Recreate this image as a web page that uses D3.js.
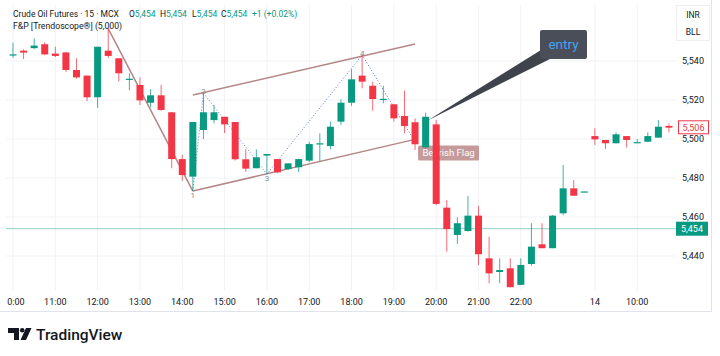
<!DOCTYPE html>
<html><head><meta charset="utf-8">
<script src="https://cdn.jsdelivr.net/npm/d3@7"></script>
<style>body{margin:0;background:#fff}svg{display:block;font-family:Roboto,"Noto Sans",sans-serif}</style>
</head><body><svg id="c" width="720" height="356"></svg>
<script>
// ---- data ----
const times = ["10:00","10:15","10:30","10:45","11:00","11:15","11:30","11:45","12:00","12:15",
"12:30","12:45","13:00","13:15","13:30","13:45","14:00","14:15","14:30","14:45",
"15:00","15:15","15:30","15:45","16:00","16:15","16:30","16:45","17:00","17:15",
"17:30","17:45","18:00","18:15","18:30","18:45","19:00","19:15","19:30","19:45",
"20:00","20:15","20:30","20:45","21:00","21:15","21:30","21:45","22:00","22:15",
"22:30","22:45","23:00","23:15","23:30","14 09:00","14 09:15","14 09:30","14 09:45","14 10:00",
"14 10:15","14 10:30","14 10:45"];
const open = [5542.8,5545.3,5546.6,5548.6,5543.8,5544.4,5535.4,5532.5,5521.4,5545.3,
5541.4,5530.5,5527.7,5518.6,5522.4,5513.7,5489.7,5480.7,5504.6,5509.7,
5511.4,5508.7,5489.6,5485.0,5491.5,5489.7,5484.6,5485.5,5488.9,5497.4,
5496.4,5508.9,5518.6,5532.5,5527.3,5520.0,5517.8,5511.8,5508.6,5495.7,
5507.5,5464.8,5450.8,5452.8,5460.7,5438.8,5431.8,5433.7,5425.2,5435.9,
5446.0,5444.0,5461.9,5474.7,5472.9,5501.5,5499.5,5497.8,5501.5,5498.3,
5498.6,5500.7,5506.7];
const high = [5549.4,5546.0,5551.6,5549.6,5547.3,5544.6,5541.4,5532.5,5547.3,5556.6,
5541.4,5533.7,5531.6,5525.5,5527.7,5513.7,5491.8,5508.7,5523.6,5517.4,
5511.4,5508.7,5494.7,5494.7,5492.3,5489.7,5487.5,5489.7,5498.6,5502.9,
5508.9,5520.4,5535.7,5543.1,5529.4,5527.3,5518.0,5524.8,5510.6,5513.5,
5509.7,5468.7,5459.9,5470.8,5465.6,5449.9,5438.8,5438.8,5438.8,5456.8,
5456.8,5461.0,5486.7,5479.0,5473.1,5505.5,5499.5,5503.4,5501.5,5500.0,
5503.4,5509.7,5508.0];
const low = [5541.7,5541.0,5546.0,5543.0,5542.0,5534.5,5531.0,5519.5,5516.0,5541.5,
5529.4,5525.0,5517.4,5516.3,5514.5,5485.0,5478.6,5473.3,5500.0,5508.0,
5503.0,5489.0,5483.2,5485.0,5482.0,5482.5,5484.0,5483.0,5488.0,5488.4,
5494.7,5507.2,5517.0,5526.0,5514.5,5518.3,5509.0,5502.9,5494.4,5495.0,
5466.0,5442.2,5446.2,5452.5,5435.4,5426.0,5426.0,5424.0,5425.0,5435.0,
5444.0,5444.0,5461.0,5470.9,5472.9,5496.9,5494.9,5497.8,5495.7,5498.3,
5498.6,5500.7,5503.4];
const close = [5543.4,5544.3,5547.9,5543.4,5542.6,5535.4,5531.6,5521.4,5547.3,5542.6,
5533.7,5530.9,5519.8,5522.4,5514.9,5489.7,5481.5,5508.7,5513.7,5513.7,
5507.5,5489.6,5484.8,5490.6,5492.3,5482.9,5487.5,5489.7,5497.4,5497.8,
5506.3,5518.6,5530.6,5529.4,5520.5,5520.6,5510.6,5506.7,5497.3,5511.4,
5466.7,5453.8,5456.8,5460.7,5440.9,5431.1,5432.8,5424.0,5435.4,5444.8,
5444.0,5460.7,5474.7,5470.9,5473.1,5499.8,5497.8,5502.4,5499.5,5498.4,
5501.5,5506.3,5505.8];
const timeTickIndex = [0,4,8,12,16,20,24,28,32,36,40,44,48,55,59];
const timeTickLabels = ["0:00","11:00","12:00","13:00","14:00","15:00","16:00","17:00","18:00","19:00","20:00","21:00","22:00","14","10:00"];
const priceTicks = [5440,5460,5480,5500,5520,5540];
// pattern (bar index, price)
const pivotIdx = [9,17,18,24,33,38];
const pivotPrice = [5556.6,5473.3,5523.6,5482.0,5543.1,5498.5];
const pivotLabels = ["","1","2","3","4",""];
const upperLine = [[17,5522.6],[38,5548.7]];
const lowerLine = [[17,5473.3],[38,5499.8]];
const entryPoint = [39,5509.5];
const refPrice = 5454, lastPrice = 5506;

// ---- layout ----
const svg = d3.select("#c");
const GREEN="#089981", RED="#f23645", TXT="#131722", GRID="#f0f2f6", FLAG="#b58686";
const plot = {l:6, r:676, t:5, b:290};
const x = d3.scalePoint().domain(d3.range(times.length)).range([13, 13+(times.length-1)*10.58]);
const y = d3.scaleLinear().domain([5440,5540]).range([256,61]);

svg.append("defs").append("clipPath").attr("id","pc").append("rect")
  .attr("x",plot.l).attr("y",plot.t).attr("width",plot.r-plot.l).attr("height",plot.b-plot.t);

// grid
const g = svg.append("g");
g.selectAll(".vg").data(timeTickIndex).join("line")
  .attr("x1",d=>x(d)).attr("x2",d=>x(d)).attr("y1",plot.t).attr("y2",plot.b)
  .attr("stroke",GRID);
g.selectAll(".hg").data(priceTicks).join("line")
  .attr("x1",plot.l).attr("x2",plot.r).attr("y1",d=>y(d)).attr("y2",d=>y(d))
  .attr("stroke",GRID);

// borders
svg.append("line").attr("x1",711.5).attr("x2",711.5).attr("y1",0).attr("y2",312).attr("stroke","#e0e3eb");
svg.append("line").attr("x1",0).attr("x2",711.5).attr("y1",311.5).attr("y2",311.5).attr("stroke","#e0e3eb");

const pg = svg.append("g").attr("clip-path","url(#pc)");

// ref line
pg.append("line").attr("x1",plot.l).attr("x2",plot.r).attr("y1",y(refPrice)).attr("y2",y(refPrice))
  .attr("stroke",GREEN).attr("stroke-opacity",0.45);

// flag lines
const lineGen = d3.line().x(d=>x(d[0])).y(d=>y(d[1]));
pg.append("path").attr("d",lineGen(upperLine)).attr("stroke",FLAG).attr("stroke-width",1.5).attr("fill","none");
pg.append("path").attr("d",lineGen(lowerLine)).attr("stroke",FLAG).attr("stroke-width",1.5).attr("fill","none");
const piv = pivotIdx.map((d,i)=>[d,pivotPrice[i]]);
pg.append("path").attr("d",lineGen(piv.slice(0,2))).attr("stroke",FLAG).attr("stroke-width",1.5).attr("fill","none");
pg.append("path").attr("d",lineGen(piv.slice(1))).attr("stroke","#5b7be0").attr("stroke-width",1)
  .attr("stroke-dasharray","1,2").attr("fill","none");

// bearish flag label
const lx = x(lowerLine[1][0])+3, ly = y(lowerLine[1][1])+6;
pg.append("rect").attr("x",lx).attr("y",ly).attr("width",61).attr("height",15).attr("rx",1.5)
  .attr("fill","#bf8f8f").attr("fill-opacity",0.9);
pg.append("text").attr("x",lx+30.5).attr("y",ly+10.8).attr("text-anchor","middle")
  .attr("font-size",9.5).attr("fill","#fff").text("Bearish Flag");

// candles
const cg = pg.append("g");
const idx = d3.range(times.length);
cg.selectAll(".w").data(idx).join("line")
  .attr("x1",i=>x(i)).attr("x2",i=>x(i)).attr("y1",i=>y(high[i])).attr("y2",i=>y(low[i]))
  .attr("stroke",i=>close[i]>=open[i]?GREEN:RED).attr("stroke-width",1).attr("opacity",0.75);
cg.selectAll(".b").data(idx).join("rect")
  .attr("x",i=>x(i)-3.5).attr("width",7)
  .attr("y",i=>y(Math.max(open[i],close[i])))
  .attr("height",i=>Math.max(1.2,Math.abs(y(open[i])-y(close[i]))))
  .attr("fill",i=>close[i]>=open[i]?GREEN:RED);

// pivot labels
pg.selectAll(".pl").data(pivotIdx.map((d,i)=>i).filter(i=>pivotLabels[i])).join("text")
  .attr("x",i=>x(pivotIdx[i])).attr("y",i=>{const up = pivotPrice[i]>pivotPrice[i-1]; return y(pivotPrice[i])+(up?1:7);})
  .attr("text-anchor","middle").attr("font-size",8).attr("fill","#8c8c8c").text(i=>pivotLabels[i]);

// entry callout
const ex = x(entryPoint[0])+2, ey = y(entryPoint[1]);
svg.append("path").attr("d",`M${ex},${ey} L541,50 L550,59 Z`).attr("fill","#3f434c");
svg.append("rect").attr("x",540).attr("y",30).attr("width",47).attr("height",29).attr("rx",2).attr("fill","#4a4e58");
svg.append("text").attr("x",563.5).attr("y",49).attr("text-anchor","middle").attr("font-size",13.5)
  .attr("fill","#42a5f5").text("entry");

// time axis
svg.selectAll(".tl").data(timeTickIndex).join("text")
  .attr("x",(d,i)=> i===0 ? x(d)+3 : x(d)).attr("y",305).attr("text-anchor","middle")
  .attr("font-size",9).attr("fill",TXT).text((d,i)=>timeTickLabels[i]);

// price axis
svg.selectAll(".pt").data(priceTicks).join("text")
  .attr("x",693).attr("y",d=>y(d)+3.3).attr("text-anchor","middle")
  .attr("font-size",9).attr("fill",TXT).text(d=>d3.format(",")(d));
svg.append("rect").attr("x",678.5).attr("y",y(lastPrice)-6.5).attr("width",30).attr("height",13)
  .attr("fill","#fff").attr("stroke",RED).attr("stroke-width",1);
svg.append("text").attr("x",693.5).attr("y",y(lastPrice)+3.3).attr("text-anchor","middle")
  .attr("font-size",9).attr("fill",RED).text(d3.format(",")(lastPrice));
svg.append("rect").attr("x",676).attr("y",y(refPrice)-7).attr("width",32).attr("height",14).attr("fill",GREEN);
svg.append("text").attr("x",692).attr("y",y(refPrice)+3.3).attr("text-anchor","middle")
  .attr("font-size",9).attr("fill","#fff").text(d3.format(",")(refPrice));

// currency box
svg.append("rect").attr("x",676.5).attr("y",5.5).attr("width",33).attr("height",35).attr("fill","#fff").attr("stroke","#eceef2");
svg.append("text").attr("x",693).attr("y",18).attr("text-anchor","middle").attr("font-size",8.5).attr("fill",TXT).text("INR");
svg.append("text").attr("x",693).attr("y",35).attr("text-anchor","middle").attr("font-size",8.5).attr("fill",TXT).text("BLL");

// header
const h = svg.append("text").attr("y",17).attr("font-size",8.5).attr("fill",TXT);
h.append("tspan").attr("x",13).text("Crude Oil Futures · 15 · MCX");
[["O",129],["H",160],["L",192],["C",221]].forEach(([k,px])=>{
  h.append("tspan").attr("x",px).attr("fill",TXT).text(k);
  h.append("tspan").attr("fill",GREEN).text(d3.format(",")(refPrice));
});
h.append("tspan").attr("x",252).attr("fill",GREEN).text("+1 (+0.02%)");
svg.append("text").attr("x",13).attr("y",28.5).attr("font-size",8.7).attr("fill",TXT).text("F&P [Trendoscope®] (5,000)");

// TradingView logo
const lg = svg.append("g").attr("fill",TXT);
lg.append("path").attr("d","M8,328 H19 V340 H14 V333 H8 Z");
lg.append("circle").attr("cx",22.2).attr("cy",330.2).attr("r",2.3);
lg.append("path").attr("d","M26,328 H31.5 L26,340 H20.5 Z");
svg.append("text").attr("x",36).attr("y",340).attr("font-size",15.5).attr("font-weight",500).attr("fill",TXT).text("TradingView");
</script></body></html>
